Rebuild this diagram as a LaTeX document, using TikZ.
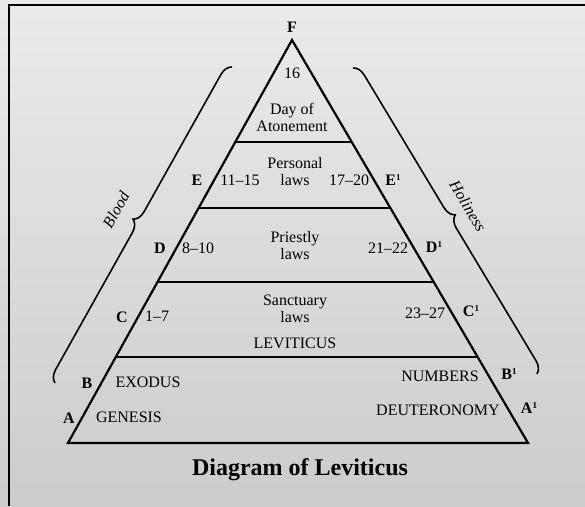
\documentclass[tikz,border=0pt]{standalone}
\usepackage{fontspec}
\setmainfont{Liberation Serif}
\usetikzlibrary{calc,decorations.pathreplacing}

\begin{document}
\begin{tikzpicture}[x=1pt, y=-1pt,
	txt/.style={font=\fontsize{16}{17}\selectfont, align=center, inner sep=0pt},
	ltr/.style={font=\fontsize{16}{17}\selectfont\bfseries, inner sep=0pt},
	brc/.style={decorate, decoration={brace, amplitude=12pt}, line width=1.6pt}]
	
	% 1. Nền và khung
	\useasboundingbox (0,0) rectangle (585,506);
	\fill[top color=gray!16, bottom color=gray!40] (0,0) rectangle (585,506);
	\draw[line width=2pt] (9,506) -- (9,4.5) -- (585,4.5);
	
	% 2. Kim tự tháp
	\coordinate (top) at (292,40);
	\coordinate (bl) at (68,443);
	\coordinate (br) at (528,443);
	\draw[line width=2.2pt, line join=miter] (top) -- (bl) -- (br) -- cycle;
	\foreach \t in {0.253,0.417,0.600,0.787}
	\draw[line width=1.6pt] ($(top)!\t!(bl)$) -- ($(top)!\t!(br)$);
	
	% 3. Ngoặc nhọn hai bên
	\coordinate (blood1) at (55,383);
	\coordinate (blood2) at (232,67);
	\coordinate (holy1) at (353,68);
	\coordinate (holy2) at (537,374);
	\draw[brc] (blood1) -- (blood2);
	\draw[brc] (holy1) -- (holy2);
	\node[txt, font=\fontsize{16}{17}\selectfont\itshape, rotate=60.7] (blood) at (116,210) {Blood};
	\node[txt, font=\fontsize{16}{17}\selectfont\itshape, rotate=-59] (holiness) at (468,206) {Holiness};
	
	% 4. Nội dung các tầng
	\node[ltr] (f) at (292,27) {F};
	\node[txt] (ch16) at (292,73) {16};
	\node[txt] (atone) at (292,117) {Day of\\Atonement};
	\node[txt] (personal) at (295,172) {Personal\\laws};
	\node[txt] (priestly) at (295,246) {Priestly\\laws};
	\node[txt] (sanct) at (295,309) {Sanctuary\\laws};
	\node[txt] (lev) at (295,343) {LEVITICUS};
	
	% 5. Nhãn chương hai bên
	\foreach \n/\x/\y/\s in {c1115/240/180/11--15, c1720/349/180/17--20,
		c810/198/248/8--10, c2122/388/248/21--22,
		c17/157/316/1--7, c2327/425/313/23--27,
		exo/148/382/EXODUS, gen/129/417/GENESIS,
		num/440/376/NUMBERS, deut/438/410/DEUTERONOMY}
	\node[txt] (\n) at (\x,\y) {\s};
	
	% 6. Chữ cái đánh dấu
	\newcommand{\sone}{\raisebox{0.75ex}{\fontsize{9}{9}\selectfont 1}}
	\foreach \n/\x/\y/\s in {e/197/180/E, d/160/248/D, c/122/317/C, b/87/383/B, a/69/418/A,
		e1/393/180/E\sone, d1/434/247/D\sone,
		c1/471/311/C\sone, b1/509/374/B\sone,
		a1/529/408/A\sone}
	\node[ltr] (\n) at (\x,\y) {\s};
	
	% 7. Tiêu đề
	\node[font=\fontsize{24}{28}\selectfont\bfseries, inner sep=0pt] (title) at (300,470) {Diagram of Leviticus};
	
\end{tikzpicture}
\end{document}
